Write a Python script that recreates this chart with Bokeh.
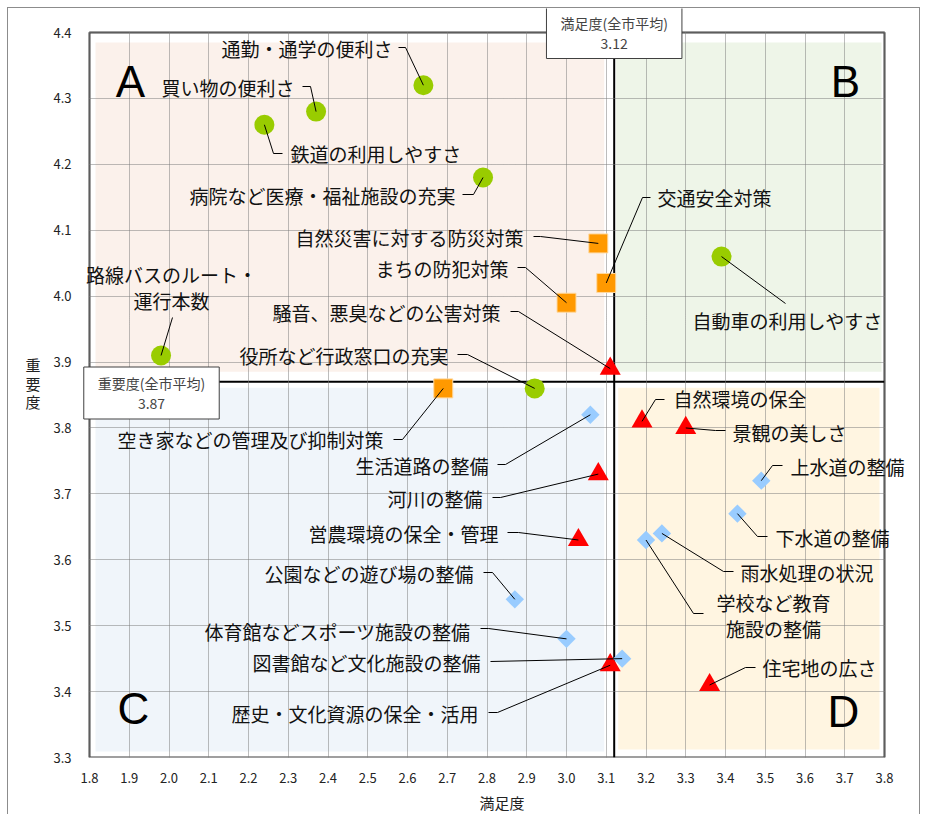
import math
from bokeh.plotting import figure
from bokeh.models import ColumnDataSource, Label, FixedTicker
from bokeh.embed import file_html
from bokeh.resources import INLINE

# ---------------- data ----------------
green_names = ["通勤・通学の便利さ", "買い物の便利さ", "鉄道の利用しやすさ",
               "病院など医療・福祉施設の充実", "路線バスのルート・\n運行本数",
               "自動車の利用しやすさ", "役所など行政窓口の充実"]
green_x = [2.64, 2.37, 2.24, 2.79, 1.98, 3.39, 2.92]
green_y = [4.32, 4.28, 4.26, 4.18, 3.91, 4.06, 3.86]

orange_names = ["自然災害に対する防災対策", "交通安全対策", "まちの防犯対策",
                "空き家などの管理及び抑制対策"]
orange_x = [3.08, 3.10, 3.00, 2.69]
orange_y = [4.08, 4.02, 3.99, 3.86]

red_names = ["騒音、悪臭などの公害対策", "自然環境の保全", "景観の美しさ", "河川の整備",
             "営農環境の保全・管理", "歴史・文化資源の保全・活用", "住宅地の広さ"]
red_x = [3.11, 3.19, 3.30, 3.08, 3.03, 3.11, 3.36]
red_y = [3.89, 3.81, 3.80, 3.73, 3.63, 3.44, 3.41]

blue_names = ["生活道路の整備", "上水道の整備", "下水道の整備", "学校など教育\n施設の整備",
              "雨水処理の状況", "公園などの遊び場の整備", "体育館などスポーツ施設の整備",
              "図書館など文化施設の整備"]
blue_x = [3.06, 3.49, 3.43, 3.20, 3.24, 2.87, 3.00, 3.14]
blue_y = [3.82, 3.72, 3.67, 3.63, 3.64, 3.54, 3.48, 3.45]

x_avg = 3.12
y_avg = 3.87
x_avg_label = "満足度(全市平均)\n3.12"
y_avg_label = "重要度(全市平均)\n3.87"
quadrant_letters = ["A", "B", "C", "D"]

x_ticks = [1.8, 1.9, 2.0, 2.1, 2.2, 2.3, 2.4, 2.5, 2.6, 2.7, 2.8, 2.9, 3.0,
           3.1, 3.2, 3.3, 3.4, 3.5, 3.6, 3.7, 3.8]
x_tick_labels = ["1.8", "1.9", "2.0", "2.1", "2.2", "2.3", "2.4", "2.5", "2.6", "2.7",
                 "2.8", "2.9", "3.0", "3.1", "3.2", "3.3", "3.4", "3.5", "3.6", "3.7", "3.8"]
y_ticks = [3.3, 3.4, 3.5, 3.6, 3.7, 3.8, 3.9, 4.0, 4.1, 4.2, 4.3, 4.4]
y_tick_labels = ["3.3", "3.4", "3.5", "3.6", "3.7", "3.8", "3.9", "4.0", "4.1", "4.2", "4.3", "4.4"]
x_title = "満足度"
y_title = "重\n要\n度"

# ---------------- layout (page pixels) ----------------
X0, X1 = 1.8, 3.8
Y0, Y1 = 3.3, 4.4
PLOT_L, PLOT_T, PLOT_W, PLOT_H = 89, 32, 795, 725      # axes box on the page
SX = PLOT_W / (X1 - X0)
SY = PLOT_H / (Y1 - Y0)
CANVAS_L, CANVAS_T, CANVAS_W, CANVAS_H = 8, 8, 913, 807
FRAME_L, FRAME_R, FRAME_T = 82, 921, 8                 # drawing frame (page px)
FRAME_B = PLOT_T + PLOT_H


def dx(px):
    return X0 + (px - PLOT_L) / SX


def dy(py):
    return Y0 + (PLOT_T + PLOT_H - py) / SY


# label anchor (px, py), alignment, leader path from the point outward
LAYOUT = {
    "通勤・通学の便利さ": (392, 48, "right", [(405, 47), (398, 47)]),
    "買い物の便利さ": (294, 87, "right", [(310, 86), (302, 86)]),
    "鉄道の利用しやすさ": (290, 153, "left", [(273, 153), (282, 153)]),
    "病院など医療・福祉施設の充実": (455, 195, "right", [(473, 194), (462, 194)]),
    "路線バスのルート・\n運行本数": (171, 287, "center", [(172, 317)]),
    "自動車の利用しやすさ": (787, 320, "center", [(785, 303)]),
    "役所など行政窓口の充実": (448, 355, "right", [(467, 354), (457, 354)]),
    "自然災害に対する防災対策": (523, 237, "right", [(540, 236), (533, 236)]),
    "交通安全対策": (657, 197, "left", [(642, 197), (650, 197)]),
    "まちの防犯対策": (508, 268, "right", [(525, 267), (517, 267)]),
    "空き家などの管理及び抑制対策": (383, 439, "right", [(402, 439), (393, 439)]),
    "騒音、悪臭などの公害対策": (500, 312, "right", [(518, 311), (510, 311)]),
    "自然環境の保全": (673, 398, "left", [(655, 399), (664, 399)]),
    "景観の美しさ": (732, 432, "left", [(715, 430), (725, 430)]),
    "河川の整備": (482, 498, "right", [(500, 497), (492, 497)]),
    "営農環境の保全・管理": (498, 533, "right", [(518, 532), (507, 532)]),
    "歴史・文化資源の保全・活用": (478, 713, "right", [(497, 712), (488, 712)]),
    "住宅地の広さ": (762, 667, "left", [(745, 667), (755, 667)]),
    "生活道路の整備": (488, 465, "right", [(505, 464), (497, 464)]),
    "上水道の整備": (790, 466, "left", [(772, 465), (782, 465)]),
    "下水道の整備": (775, 537, "left", [(757, 536), (767, 536)]),
    "学校など教育\n施設の整備": (773, 615, "center", [(693, 613), (703, 613)]),
    "雨水処理の状況": (740, 572, "left", [(723, 571), (733, 571)]),
    "公園などの遊び場の整備": (473, 573, "right", [(492, 572), (483, 572)]),
    "体育館などスポーツ施設の整備": (470, 631, "right", [(488, 628), (480, 628)]),
    "図書館など文化施設の整備": (480, 662, "right", [(490, 661)]),
}
LETTER_POS = [(130, 81), (845, 81), (133, 708), (843, 711)]

FONT = "Noto Sans CJK JP"

p = figure(width=CANVAS_W, height=CANVAS_H,
           x_range=(dx(FRAME_L), dx(FRAME_R)), y_range=(Y0, dy(FRAME_T)),
           output_backend="svg", toolbar_location=None,
           min_border_left=FRAME_L - CANVAS_L, min_border_right=CANVAS_L + CANVAS_W - FRAME_R,
           min_border_top=FRAME_T - CANVAS_T, min_border_bottom=CANVAS_T + CANVAS_H - FRAME_B,
           background_fill_color="white", border_fill_color="white")
p.styles = {"margin-left": "7px", "margin-top": "7px",
            "border-left": "1px solid #8c8c8c", "border-right": "1px solid #8c8c8c",
            "border-top": "1px solid #8c8c8c"}
p.outline_line_color = None

# axes
for ax in (p.xaxis[0], p.yaxis[0]):
    ax.axis_line_color = None
    ax.major_tick_line_color = None
    ax.minor_tick_line_color = None
    ax.major_label_text_font = FONT
    ax.major_label_text_font_size = "13px"
    ax.major_label_text_color = "#222222"
    ax.axis_label_text_font = FONT
    ax.axis_label_text_font_size = "15px"
    ax.axis_label_text_font_style = "normal"
    ax.axis_label_text_color = "#222222"
p.xaxis.bounds = (X0, X1)
p.yaxis.bounds = (Y0, Y1)
p.xaxis.ticker = FixedTicker(ticks=x_ticks)
p.yaxis.ticker = FixedTicker(ticks=y_ticks)
p.xaxis.major_label_overrides = {t: s for t, s in zip(x_ticks, x_tick_labels)}
p.yaxis.major_label_overrides = {t: s for t, s in zip(y_ticks, y_tick_labels)}
p.xaxis.major_label_standoff = 9
p.yaxis.major_label_standoff = 5
p.xaxis.axis_label = x_title
p.xaxis.axis_label_standoff = 6
p.yaxis.axis_label = y_title
p.yaxis.axis_label_standoff = 10
p.yaxis.axis_label_text_line_height = 0.87
try:
    p.yaxis[0].axis_label_orientation = "horizontal"
except Exception:
    p.yaxis.axis_label = "重要度"

for g in (p.xgrid[0], p.ygrid[0]):
    g.grid_line_color = "#7a7a7a"
    g.grid_line_dash = "1 1"
    g.grid_line_width = 1
p.xgrid.bounds = (X0, X1)
p.ygrid.bounds = (Y0, Y1)
p.xgrid.cross_bounds = (Y0, Y1)
p.ygrid.cross_bounds = (X0, X1)

# quadrant backgrounds
quad_src = ColumnDataSource(dict(
    left=[X0 + 6 / SX, x_avg + 2 / SX, X0 + 6 / SX, x_avg + 4 / SX],
    right=[x_avg - 10 / SX, X1 - 3 / SX, x_avg - 10 / SX, X1 - 5 / SX],
    top=[Y1 - 10 / SY, Y1 - 10 / SY, y_avg - 6 / SY, y_avg - 6 / SY],
    bottom=[y_avg + 10 / SY, y_avg + 10 / SY, Y0 + 6 / SY, Y0 + 8 / SY],
    color=["#FBF1EB", "#EEF5E8", "#F0F5FA", "#FFF5E1"],
))
p.quad(left="left", right="right", top="top", bottom="bottom", fill_color="color",
       line_color=None, source=quad_src, level="image")

# axes box outline
p.quad(left=[X0], right=[X1], bottom=[Y0], top=[Y1], fill_color=None,
       line_color="#404040", line_width=2, level="underlay")

# average lines
p.segment(x0=[x_avg, X0], y0=[Y0, y_avg], x1=[x_avg, X1], y1=[Y1, y_avg],
          line_color="black", line_width=2, level="underlay")

# markers
p.scatter(green_x, green_y, marker="circle", size=20, fill_color="#99CC00",
          line_color=None)
p.scatter(orange_x, orange_y, marker="square", size=19, fill_color="#FF9900",
          line_color="#FFD9A0", line_width=1)
p.scatter(red_x, red_y, marker="triangle", size=21, fill_color="#FF0000",
          line_color=None)
p.scatter(blue_x, blue_y, marker="square", size=13, angle=math.pi / 4,
          fill_color="#99CCFF", line_color=None)

# labels + leaders
xs, ys = [], []
for names, xv, yv in ((green_names, green_x, green_y), (orange_names, orange_x, orange_y),
                      (red_names, red_x, red_y), (blue_names, blue_x, blue_y)):
    for n, x, y in zip(names, xv, yv):
        ax_, ay_, align, path = LAYOUT[n]
        xs.append([x] + [dx(a) for a, b in path])
        ys.append([y] + [dy(b) for a, b in path])
        p.add_layout(Label(x=dx(ax_), y=dy(ay_), text=n, text_align=align,
                           text_baseline="middle", text_font=FONT,
                           text_font_size="19px", text_color="#111111",
                           text_line_height=0.95))
p.multi_line(xs, ys, line_color="black", line_width=1)

# quadrant letters
for letter, (lx, ly) in zip(quadrant_letters, LETTER_POS):
    p.add_layout(Label(x=dx(lx), y=dy(ly), text=letter, text_align="center",
                       text_baseline="middle", text_font="Liberation Sans",
                       text_font_size="44px", text_color="black"))

# average value boxes
for txt, cx, cy in ((x_avg_label, x_avg, dy(32)), (y_avg_label, dx(151), dy(392.5))):
    p.add_layout(Label(x=cx, y=cy, text=txt, text_align="center",
                       text_baseline="middle", text_font=FONT, text_font_size="14px",
                       text_line_height=1.0, background_fill_color="white",
                       border_line_color="#404040", border_line_width=1,
                       padding=(14, 6), level="overlay"))

open("out.html", "w").write(file_html(p, INLINE))
